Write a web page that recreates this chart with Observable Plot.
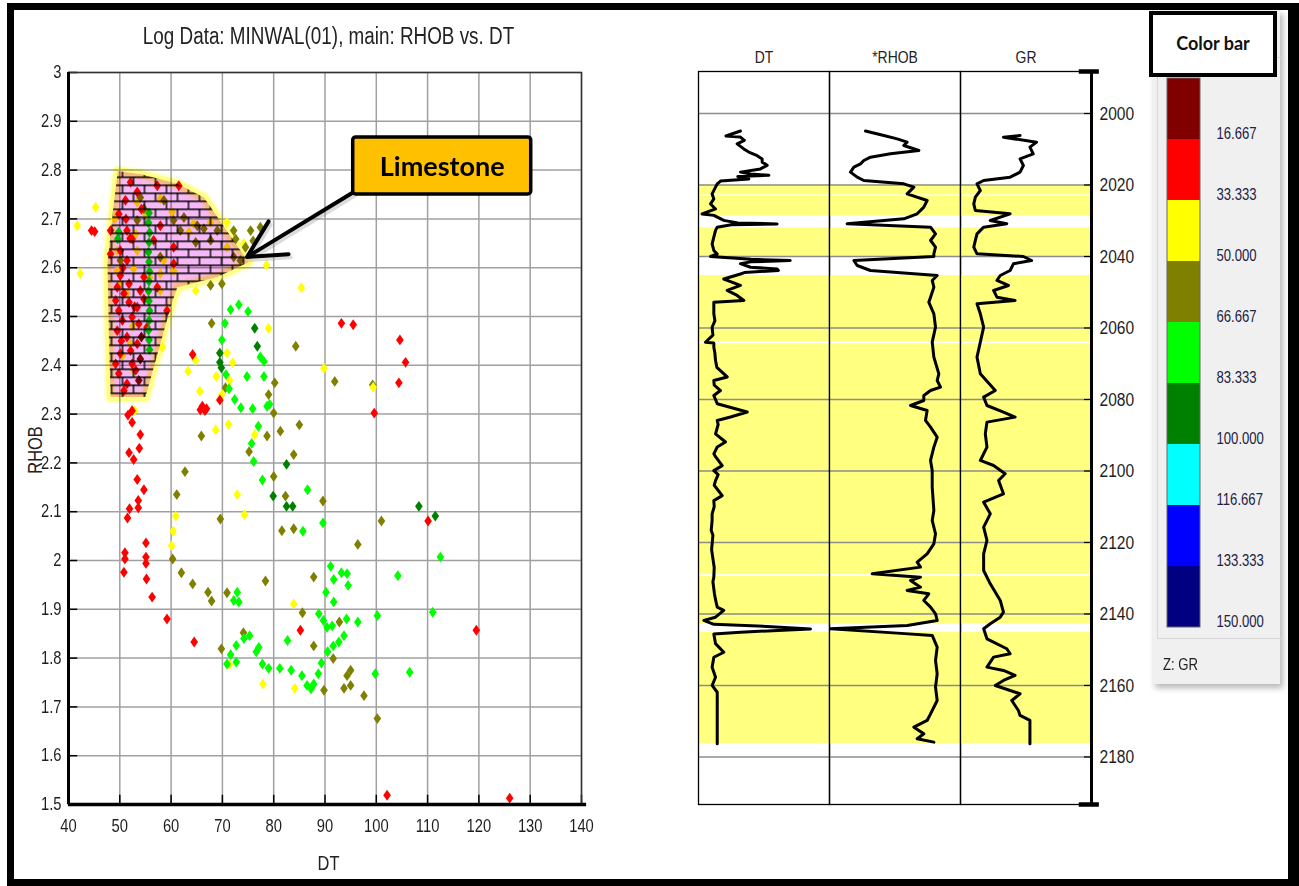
<!DOCTYPE html>
<html>
<head>
<meta charset="utf-8">
<script src="https://cdn.jsdelivr.net/npm/d3@7"></script>
<script src="https://cdn.jsdelivr.net/npm/@observablehq/plot@0.6"></script>
<style>
  body { margin: 0; background: #fff; }
  #page { position: relative; width: 1299px; height: 886px; overflow: hidden; background: #fff; }
  #page svg { display: block; max-width: none; }
</style>
</head>
<body>
<div id="page"></div>
<script>
// ---------- GR colour classes (Z: GR) ----------
const grBounds = [0, 16.667, 33.333, 50, 66.667, 83.333, 100, 116.667, 133.333, 150];
const grBreaks = [16.667, 33.333, 50, 66.667, 83.333, 100, 116.667, 133.333];
const grColors = ["#800000", "#ff0000", "#ffff00", "#808000", "#00ff00", "#008000", "#00ffff", "#0000ff", "#000080"];
const grLabels = ["16.667", "33.333", "50.000", "66.667", "83.333", "100.000", "116.667", "133.333", "150.000"];

// ---------- cross-plot samples: [DT, RHOB], grouped by GR class ----------
const grMaroon = 10, grRed = 25, grYellow = 42, grOlive = 58, grLime = 75, grGreen = 92;

const maroonPts = [[54.0, 2.413], [53.7, 2.369], [54.2, 2.458]];

const redPts = [
  [44.5, 2.676], [45.1, 2.674], [93.2, 2.486], [95.5, 2.483], [104.6, 2.452], [105.7, 2.406], [104.4, 2.364],
  [64.2, 2.422], [99.6, 2.302], [66.1, 2.316], [66.6, 2.307], [65.7, 2.309], [66.9, 2.311], [69.5, 2.329],
  [52.4, 2.283], [54.0, 2.258], [53.8, 2.230], [51.8, 2.221], [52.7, 2.207], [53.4, 2.166], [54.7, 2.145],
  [53.6, 2.123], [53.6, 2.108], [51.9, 2.106], [51.5, 2.087], [55.1, 2.036], [55.1, 2.007], [55.1, 1.994],
  [51.0, 2.016], [51.0, 2.003], [50.8, 1.976], [55.2, 1.962], [56.3, 1.925], [59.2, 1.880], [64.5, 1.833],
  [85.2, 1.857], [110.1, 2.081], [119.5, 1.857], [102.1, 1.519], [126.0, 1.513], [52.4, 2.307], [51.6, 2.298],
  [52.1, 2.775], [57.3, 2.768], [61.5, 2.768], [53.4, 2.755], [51.1, 2.738], [49.8, 2.710], [48.2, 2.676],
  [51.4, 2.676], [52.4, 2.659], [50.1, 2.635], [51.4, 2.615], [50.1, 2.584], [51.8, 2.567], [50.8, 2.547],
  [51.8, 2.529], [49.8, 2.512], [52.4, 2.499], [49.5, 2.471], [51.4, 2.458], [53.4, 2.444], [50.1, 2.424],
  [52.4, 2.403], [49.8, 2.383], [51.4, 2.362], [50.8, 2.348], [59.2, 2.512], [54.0, 2.553], [56.6, 2.656],
  [60.5, 2.642], [60.5, 2.608], [55.3, 2.478], [57.9, 2.686], [53.7, 2.485], [48.2, 2.628], [49.2, 2.533],
  [52.1, 2.430], [53.4, 2.519], [54.7, 2.581], [49.2, 2.403], [57.3, 2.560], [50.5, 2.492], [54.7, 2.536],
  [50.6, 2.600], [52.9, 2.520], [50.3, 2.450], [53.1, 2.390], [51.2, 2.700], [54.2, 2.720], [49.5, 2.560],
  [52.0, 2.660]
];

const yellowPts = [
  [45.3, 2.724], [41.7, 2.686], [42.3, 2.588], [78.6, 2.605], [85.4, 2.559], [64.8, 2.553], [79.0, 2.476],
  [70.9, 2.425], [72.0, 2.405], [64.8, 2.410], [89.8, 2.394], [63.3, 2.388], [68.8, 2.377], [71.4, 2.369],
  [65.6, 2.347], [69.9, 2.340], [68.7, 2.268], [71.2, 2.279], [76.3, 2.258], [72.9, 2.135], [74.3, 2.094],
  [60.9, 2.091], [60.4, 2.060], [60.1, 2.030], [83.9, 1.911], [71.4, 1.787], [77.9, 1.747], [84.1, 1.738],
  [58.3, 2.437], [52.9, 2.307],
  [53.4, 2.734], [57.9, 2.741], [55.0, 2.710], [60.2, 2.714], [64.4, 2.690], [67.7, 2.693], [70.9, 2.693],
  [63.5, 2.673], [49.5, 2.635], [53.4, 2.635], [58.6, 2.615], [49.5, 2.594], [52.7, 2.598], [57.9, 2.588],
  [60.5, 2.594], [50.1, 2.567], [51.4, 2.547], [57.9, 2.553], [52.1, 2.444], [52.7, 2.389], [53.1, 2.669],
  [70.9, 2.642], [74.2, 2.649], [49.0, 2.700], [52.5, 2.480], [55.8, 2.580], [50.5, 2.420]
];

const olivePts = [
  [77.4, 2.683], [67.7, 2.564], [69.9, 2.567], [67.9, 2.486], [84.3, 2.439], [80.2, 2.364], [91.9, 2.367],
  [99.3, 2.360], [70.6, 2.354], [79.0, 2.340], [80.0, 2.302], [65.9, 2.255], [78.7, 2.255], [81.3, 2.265],
  [85.0, 2.278], [75.2, 2.223], [83.9, 2.217], [62.7, 2.182], [61.1, 2.135], [80.0, 2.172], [82.3, 2.132],
  [89.6, 2.122], [69.6, 2.085], [101.0, 2.081], [81.6, 2.061], [83.9, 2.065], [96.4, 2.033], [60.3, 2.003],
  [62.0, 1.975], [64.2, 1.952], [67.2, 1.935], [67.9, 1.917], [70.9, 1.934], [78.4, 1.958], [87.8, 1.966],
  [85.6, 1.893], [92.8, 1.874], [74.1, 1.852], [69.8, 1.819], [87.8, 1.825], [91.6, 1.799], [89.8, 1.734],
  [93.7, 1.738], [95.0, 1.744], [94.3, 1.764], [95.0, 1.775], [97.6, 1.723], [100.2, 1.676],
  [54.0, 2.744], [58.6, 2.738], [62.5, 2.703], [61.8, 2.676], [65.1, 2.686], [66.4, 2.680], [69.0, 2.676],
  [72.2, 2.676], [72.6, 2.659], [74.5, 2.642], [73.5, 2.615], [72.2, 2.622], [64.8, 2.652], [60.5, 2.697],
  [67.7, 2.656], [50.1, 2.615], [57.9, 2.622], [53.4, 2.697], [54.7, 2.721], [75.5, 2.676], [76.0, 2.655]
];

const yellowOverOlive = [[99.4, 2.355]];

const limePts = [
  [71.6, 2.514], [73.2, 2.524], [75.0, 2.510], [70.5, 2.486], [69.9, 2.452], [77.4, 2.417], [78.1, 2.408],
  [74.8, 2.377], [78.1, 2.377], [70.7, 2.381], [71.3, 2.352], [72.4, 2.330], [73.6, 2.313], [75.9, 2.311],
  [78.7, 2.316], [79.2, 2.320], [77.0, 2.275], [75.7, 2.240], [76.1, 2.203], [77.8, 2.165], [86.6, 2.145],
  [89.6, 2.077], [85.7, 2.060], [112.5, 2.007], [72.9, 1.935], [72.2, 1.918], [73.2, 1.915], [91.1, 1.988],
  [93.2, 1.975], [94.3, 1.973], [94.5, 1.949], [91.7, 1.961], [90.2, 1.935], [91.7, 1.915], [104.2, 1.969],
  [88.8, 1.891], [89.7, 1.877], [90.4, 1.863], [91.4, 1.866], [94.2, 1.880], [96.4, 1.874], [100.2, 1.887],
  [111.0, 1.894], [82.7, 1.836], [91.6, 1.825], [92.7, 1.833], [93.7, 1.846], [90.5, 1.813], [75.3, 1.846],
  [74.2, 1.840], [72.7, 1.826], [77.1, 1.822], [76.6, 1.813], [71.6, 1.807], [70.9, 1.788], [72.7, 1.792],
  [77.8, 1.788], [79.0, 1.779], [81.2, 1.779], [83.4, 1.775], [85.5, 1.764], [86.5, 1.744], [87.3, 1.737],
  [87.8, 1.747], [88.7, 1.768], [89.3, 1.790], [99.8, 1.768], [106.5, 1.771],
  [55.7, 2.712], [55.6, 2.692], [55.8, 2.672], [55.7, 2.652], [55.6, 2.632], [55.7, 2.612], [55.8, 2.592],
  [55.7, 2.572], [55.6, 2.552], [55.7, 2.532], [55.8, 2.512], [55.7, 2.492], [55.6, 2.472], [55.7, 2.452],
  [55.8, 2.432], [49.8, 2.673], [49.6, 2.659]
];

const greenPts = [
  [76.3, 2.476], [76.8, 2.439], [69.5, 2.425], [69.5, 2.406], [69.8, 2.395], [82.5, 2.197], [79.9, 2.132],
  [82.5, 2.111], [83.7, 2.111], [108.3, 2.111], [111.5, 2.091]
];

// limestone zone outline on the cross-plot
const limestoneDT   = [49.6, 54.4, 61.2, 66.4, 75.1, 69.0, 61.2, 59.9, 55.0, 48.2, 47.9, 47.6, 48.7];
const limestoneRHOB = [2.798, 2.791, 2.772, 2.744, 2.611, 2.581, 2.560, 2.519, 2.335, 2.335, 2.450, 2.610, 2.720];

// axis ticks
const dtTicks = [40, 50, 60, 70, 80, 90, 100, 110, 120, 130, 140];
const rhobTicks = [1.5, 1.6, 1.7, 1.8, 1.9, 2.0, 2.1, 2.2, 2.3, 2.4, 2.5, 2.6, 2.7, 2.8, 2.9, 3.0];
const depthTicks = [2000, 2020, 2040, 2060, 2080, 2100, 2120, 2140, 2160, 2180];
const depthRange = [1988.25, 2193.3];

// ---------- well logs: [depth, value] ----------
const dtLog = [
  [2004.9, 72], [2006.3, 61], [2006.6, 72], [2007.5, 75], [2008.5, 69.5], [2009.9, 74.6], [2010.8, 78.4],
  [2011.8, 84.8], [2012.7, 88.6], [2013.6, 88.6], [2014.5, 92.4], [2015.5, 87.3], [2016.4, 72], [2016.9, 79.7],
  [2017.3, 93.7], [2017.6, 70], [2018.3, 78.4], [2018.9, 56.8], [2019.7, 54.3], [2020.6, 53], [2022.5, 50.4],
  [2023.9, 51.7], [2025.3, 49.2], [2026.7, 53], [2028.1, 42.8], [2028.5, 51.7], [2029.9, 59.3], [2030.6, 70],
  [2030.9, 100], [2031.1, 65], [2031.8, 54.3], [2032.7, 53], [2034.6, 51.7], [2036.5, 50.4], [2038.3, 51.7],
  [2039.3, 54.3], [2040.0, 49.2], [2040.8, 80], [2041.1, 110], [2041.5, 80], [2042.0, 72], [2043.0, 79.7],
  [2043.5, 100], [2043.9, 101], [2044.5, 75], [2044.9, 72], [2046.3, 59.3], [2046.7, 61.9], [2048.1, 72],
  [2049.5, 61.9], [2050.9, 69.5], [2052.3, 74.6], [2052.8, 51.7], [2056.0, 51.7], [2058.0, 52.5],
  [2059.8, 50.4], [2062.0, 51.0], [2064.0, 45.3], [2064.2, 51.7], [2065.4, 51.7], [2067.0, 52.5],
  [2069.1, 53], [2071.0, 54.0], [2073.7, 61.9], [2074.7, 51.7], [2076.0, 52.0], [2077.5, 56.8],
  [2078.9, 51.7], [2080.0, 53.0], [2081.2, 54.3], [2083.5, 77.2], [2084.9, 64.4], [2085.9, 54.3],
  [2087.0, 55.0], [2089.6, 53], [2091.9, 60.6], [2093.3, 54.3], [2095.2, 51.7], [2096.0, 53.0],
  [2098.5, 58.1], [2099.9, 51.7], [2101.0, 55.0], [2102.7, 53], [2104.0, 52.0], [2106.9, 58.1],
  [2108.3, 51.7], [2110.0, 52.0], [2112.0, 50.4], [2113.8, 50.4], [2116.6, 49.7], [2118.0, 51.0],
  [2120.4, 50.4], [2122.0, 50.0], [2125.0, 51.2], [2127.0, 52.0], [2129.7, 51.7], [2131.0, 51.0],
  [2134.4, 52.2], [2136.0, 53.0], [2138.1, 54.3], [2139.0, 59.3], [2140.9, 53], [2141.8, 44.1],
  [2142.9, 51.7], [2143.5, 92.4], [2144.2, 125.5], [2145.1, 72.1], [2145.6, 51.7], [2148.3, 53],
  [2150.7, 59.3], [2152.1, 51.7], [2154.9, 50.4], [2157.7, 53], [2160.0, 50.4], [2161.9, 54.3], [2176.3, 54.3]
];

const rhobLog = [
  [2004.9, 1.912], [2006.15, 2.122], [2007.09, 2.275], [2008.02, 2.389], [2008.95, 2.351], [2010.35, 2.523],
  [2011.28, 2.198], [2012.21, 1.969], [2013.15, 1.893], [2014.08, 1.855], [2015.01, 1.779], [2016.41, 1.74],
  [2017.81, 1.817], [2018.74, 1.893], [2019.67, 2.351], [2020.61, 2.466], [2022.47, 2.389], [2024.34, 2.618],
  [2026.2, 2.58], [2028.06, 2.504], [2029.46, 2.351], [2030.86, 1.702], [2031.79, 2.657], [2033.66, 2.714],
  [2035.52, 2.657], [2037.39, 2.714], [2039.25, 2.695], [2040.0, 2.695], [2041.12, 1.779], [2042.52, 1.817],
  [2043.92, 1.969], [2045.31, 2.733], [2046.71, 2.676], [2048.58, 2.695], [2051.38, 2.657], [2052.77, 2.637],
  [2056.04, 2.695], [2059.77, 2.714], [2063.96, 2.676], [2068.16, 2.695], [2072.82, 2.752], [2074.69, 2.733],
  [2076.55, 2.771], [2077.48, 2.657], [2078.88, 2.58], [2080.28, 2.58], [2081.68, 2.428], [2083.08, 2.618],
  [2085.87, 2.599], [2087.74, 2.657], [2090.54, 2.733], [2093.33, 2.695], [2097.06, 2.657], [2099.86, 2.676],
  [2104.52, 2.676], [2111.05, 2.695], [2113.85, 2.676], [2117.58, 2.714], [2120.37, 2.695], [2123.17, 2.618],
  [2125.5, 2.504], [2126.9, 2.542], [2128.76, 1.989], [2129.7, 2.542], [2130.63, 2.428], [2132.5, 2.542],
  [2133.43, 2.389], [2134.36, 2.637], [2136.22, 2.58], [2138.09, 2.657], [2139.95, 2.714], [2141.82, 2.733],
  [2143.22, 2.389], [2144.15, 1.511], [2145.36, 2.275], [2146.01, 2.676], [2149.28, 2.733], [2153.01, 2.714],
  [2156.74, 2.733], [2160.47, 2.714], [2164.2, 2.733], [2167.93, 2.657], [2169.79, 2.618], [2171.66, 2.466],
  [2173.52, 2.58], [2174.92, 2.504], [2175.85, 2.695]
];

const grLog = [
  [2006.15, 68.2], [2006.62, 49.2], [2008.02, 87.1], [2009.42, 79.5], [2011.28, 83.3], [2012.68, 68.2],
  [2014.55, 72], [2016.41, 68.2], [2017.81, 56.8], [2018.74, 26.5], [2019.67, 18.9], [2021.54, 22.7],
  [2023.4, 17], [2025.27, 15.2], [2027.13, 17], [2028.06, 56.8], [2029.93, 34.1], [2030.86, 53], [2031.79, 26.5],
  [2033.66, 18.9], [2035.52, 17], [2037.39, 15.2], [2039.25, 18.9], [2040.0, 72], [2041.12, 81.4],
  [2042.05, 60.6], [2043.92, 56.8], [2045.31, 45.5], [2046.71, 41.7], [2048.11, 54.9], [2049.5, 37.9],
  [2051.38, 41.7], [2052.3, 62.5], [2053.24, 18.9], [2056.04, 22.7], [2059.77, 26.5], [2063.96, 22.7],
  [2068.16, 18.9], [2072.82, 22.7], [2077.48, 39.8], [2079.35, 26.5], [2081.68, 30.3], [2083.54, 49.2],
  [2084.94, 62.5], [2086.34, 30.3], [2089.6, 28.4], [2093.33, 30.3], [2097.06, 22.7], [2098.46, 37.9],
  [2100.79, 51.1], [2102.66, 43.6], [2106.39, 49.2], [2108.72, 26.5], [2111.98, 34.1], [2115.71, 26.5],
  [2119.44, 30.3], [2123.17, 26.5], [2127.83, 26.5], [2131.56, 34.1], [2136.22, 45.5], [2139.49, 49.2],
  [2140.89, 45.5], [2142.75, 34.1], [2144.15, 26.5], [2146.95, 30.3], [2149.74, 53], [2151.14, 56.8],
  [2152.08, 37.9], [2154.87, 30.3], [2155.8, 49.2], [2157.2, 62.5], [2158.6, 49.2], [2160.0, 39.8],
  [2162.33, 68.2], [2164.2, 58.7], [2167.0, 66.3], [2168.39, 68.2], [2169.79, 79.5], [2176.32, 79.5]
];

// limestone intervals shaded on the log tracks: [top, base]
const limestoneIntervals = [
  [2020.0, 2022.8], [2023.1, 2028.7], [2032.0, 2040.0], [2045.3, 2064.0],
  [2064.4, 2129.0], [2129.5, 2142.8], [2145.1, 2176.3]
];

// ---------- helpers ----------
const FONT = '"Liberation Sans", Arial, sans-serif';
const NARROW = 0.82; // horizontal squeeze for the narrow lettering
const page = document.getElementById("page");

function place(node, left, top, w, h, z = 1) {
  const d = document.createElement("div");
  d.style.cssText = `position:absolute;left:${left}px;top:${top}px;width:${w}px;height:${h}px;z-index:${z};`;
  d.appendChild(node);
  page.appendChild(d);
  return d;
}
function textBox(text, css) {
  const d = document.createElement("div");
  d.textContent = text;
  d.style.cssText = "position:absolute;white-space:nowrap;" + css;
  page.appendChild(d);
  return d;
}
// squeeze every svg text horizontally about its own anchor (the callout keeps its shape)
function condense(svg, k = NARROW) {
  d3.select(svg).selectAll("text").each(function () {
    if (this.closest(".callout")) return;
    const t = this.getAttribute("transform");
    this.setAttribute("transform", (t ? t + " " : "") + `scale(${k},1)`);
  });
  return svg;
}
// a diamond a little wider than d3's default
const wideDiamond = {
  draw(context, size) {
    const r = Math.sqrt(size / Math.PI);
    const h = 1.6 * r, w = 1.12 * r;
    context.moveTo(0, -h); context.lineTo(w, 0); context.lineTo(0, h); context.lineTo(-w, 0); context.closePath();
  }
};

const colorScale = {type: "threshold", domain: grBreaks, range: grColors};

// ---------- RHOB vs DT cross-plot ----------
const samples = [];
for (const [gr, list] of [[grYellow, yellowPts], [grOlive, olivePts], [grYellow, yellowOverOlive], [grRed, redPts], [grMaroon, maroonPts], [grLime, limePts], [grGreen, greenPts]]) {
  for (const [dt, rhob] of list) samples.push({dt, rhob, gr});
}
const zone = limestoneDT.map((dt, i) => ({dt, rhob: limestoneRHOB[i]}));
const callout = {x1: 95.5, x2: 130.2, y1: 2.750, y2: 2.867, tx: 112.85, ty: 2.805, ax1: 95.6, ay1: 2.755, ax2: 74.8, ay2: 2.622};

const cross = Plot.plot({
  width: 640, height: 886,
  marginLeft: 68, marginRight: 59, marginTop: 72, marginBottom: 82,
  x: {domain: [40, 140]},
  y: {domain: [1.5, 3]},
  color: colorScale,
  style: {fontFamily: FONT, fontSize: "18px", color: "#1e1e1e", background: "transparent", overflow: "visible"},
  marks: [
    Plot.gridX(dtTicks, {stroke: "#a0a0a0", strokeOpacity: 1, strokeWidth: 1.5}),
    Plot.gridY(rhobTicks, {stroke: "#a0a0a0", strokeOpacity: 1, strokeWidth: 1.5}),
    Plot.axisX(dtTicks, {tickSize: 0, tickPadding: 15, label: null, fontSize: 18}),
    Plot.axisY(rhobTicks, {tickSize: 0, tickPadding: 7, label: null, fontSize: 18, tickFormat: d => d3.format("~g")(+d.toFixed(1))}),
    Plot.ruleX(dtTicks, {y1: 1.5, y2: 1.519, stroke: "black", strokeWidth: 1.5}),
    Plot.ruleY(rhobTicks, {x1: 40, x2: 41.8, stroke: "black", strokeWidth: 1.5}),
    Plot.dot(samples, {x: "dt", y: "rhob", fill: "gr", symbol: wideDiamond, r: 3.4}),
    // limestone zone: soft yellow rim, then brick-hatched fill blended over the samples
    Plot.line(zone, {x: "dt", y: "rhob", curve: "linear-closed", stroke: "#ffff66", strokeWidth: 13, strokeOpacity: 0.25, strokeLinejoin: "round", fill: "none", mixBlendMode: "multiply"}),
    Plot.line(zone, {x: "dt", y: "rhob", curve: "linear-closed", stroke: "#ffff80", strokeWidth: 8, strokeOpacity: 0.8, strokeLinejoin: "round", fill: "none", mixBlendMode: "multiply"}),
    Plot.line(zone, {x: "dt", y: "rhob", curve: "linear-closed", stroke: "none", fill: "url(#brick)", mixBlendMode: "multiply"}),
    Plot.frame({stroke: "#333", strokeWidth: 1.5}),
    Plot.ruleX([40], {stroke: "black", strokeWidth: 3}),
    Plot.ruleY([1.5], {x1: 40, x2: 141, stroke: "black", strokeWidth: 3.5}),
    // "Limestone" callout
    Plot.arrow([callout], {x1: "ax1", y1: "ay1", x2: "ax2", y2: "ay2", stroke: "#888", strokeOpacity: 0.3, strokeWidth: 4, headLength: 17, headAngle: 55, dx: 2, dy: 3}),
    Plot.arrow([callout], {x1: "ax1", y1: "ay1", x2: "ax2", y2: "ay2", stroke: "black", strokeWidth: 4, headLength: 17, headAngle: 55}),
    Plot.rect([callout], {x1: "x1", x2: "x2", y1: "y1", y2: "y2", fill: "#ffc000", stroke: "black", strokeWidth: 3.5, rx: 3}),
    Plot.text([callout], {x: "tx", y: "ty", text: () => "Limestone", className: "callout", fontFamily: "Lato, 'Open Sans', sans-serif", fontWeight: "bold", fontSize: 27, fill: "black"})
  ]
});
// brick hatch used by the limestone zone
{
  const defs = d3.select(cross).insert("defs", ":first-child");
  const pat = defs.append("pattern").attr("id", "brick").attr("patternUnits", "userSpaceOnUse").attr("width", 22).attr("height", 16);
  pat.append("rect").attr("width", 22).attr("height", 16).attr("fill", "#f6b8f6");
  pat.append("path").attr("d", "M0,0.7H22M0,8.7H22M1,0.7V8.7M12,8.7V16.7").attr("stroke", "#000").attr("stroke-width", 1.4).attr("fill", "none");
}
place(condense(cross), 0, 0, 640, 886);

const squeeze = `transform:scaleX(${NARROW});transform-origin:50% 50%;`;
textBox("Log Data: MINWAL(01), main: RHOB vs. DT", `left:72px;top:22px;width:513px;text-align:center;font:23px/28px ${FONT};color:#222;${squeeze}`);
textBox("DT", `left:72px;top:852px;width:513px;text-align:center;font:20px/22px ${FONT};color:#222;${squeeze}`);
textBox("RHOB", `left:5px;top:439px;width:60px;text-align:center;font:20px/22px ${FONT};color:#222;transform:rotate(-90deg) scaleX(${NARROW});transform-origin:50% 50%;`);

// ---------- log tracks ----------
function track(log, domain, header, withDepthAxis) {
  const marks = [
    Plot.rect(limestoneIntervals, {x1: domain[0], x2: domain[1], y1: d => d[0], y2: d => d[1], fill: "#ffff80"}),
    Plot.gridY(depthTicks, {stroke: "#8c8c8c", strokeOpacity: 1, strokeWidth: 1.5}),
    Plot.line(log, {x: d => d[1], y: d => d[0], stroke: "black", strokeWidth: 3, strokeLinejoin: "round"}),
    Plot.frame({stroke: "black", strokeWidth: 1.3}),
    Plot.text([header], {frameAnchor: "top", lineAnchor: "middle", dy: -14, fontSize: 17, fill: "#222"})
  ];
  if (withDepthAxis) {
    marks.push(
      Plot.ruleY(depthTicks, {x1: 142, x2: 150, stroke: "black", strokeWidth: 1.2}),
      Plot.ruleX([150], {stroke: "black", strokeWidth: 3}),
      Plot.ruleY(depthRange, {x1: 136, x2: 159, stroke: "black", strokeWidth: 4.5}),
      Plot.axisY(depthTicks, {anchor: "right", tickSize: 0, tickPadding: 8, label: null, fontSize: 19, tickFormat: d => String(d)})
    );
  }
  return condense(Plot.plot({
    width: withDepthAxis ? 183 : 133, height: 766,
    marginLeft: 1, marginRight: withDepthAxis ? 51 : 1, marginTop: 31, marginBottom: 2,
    x: {domain, axis: null},
    y: {domain: depthRange, reverse: true, axis: null},
    style: {fontFamily: FONT, fontSize: "17px", color: "#1e1e1e", background: "transparent", overflow: "visible"},
    marks
  }));
}
place(track(dtLog, [40, 140], "DT", false), 697, 40, 133, 766);
place(track(rhobLog, [1.5, 3.0], "*RHOB", false), 828, 40, 133, 766);
place(track(grLog, [0, 150], "GR", true), 959, 40, 183, 766);

// ---------- colour bar panel ----------
const panel = document.createElement("div");
panel.style.cssText = "position:absolute;left:1152px;top:10px;width:128px;height:674px;background:#f0f0f0;box-shadow:3px 4px 6px rgba(0,0,0,0.28);z-index:2;";
page.appendChild(panel);
const inner = document.createElement("div");
inner.style.cssText = "position:absolute;left:1157px;top:57px;width:124px;height:580px;border:1px solid #d6d6d6;z-index:3;";
page.appendChild(inner);

const bands = grColors.map((c, i) => ({lo: grBounds[i], hi: grBounds[i + 1], label: grLabels[i]}));
const bar = Plot.plot({
  width: 126, height: 580,
  marginLeft: 10, marginRight: 83, marginTop: 21, marginBottom: 10,
  x: {domain: [0, 1], axis: null},
  y: {domain: [0, 150], reverse: true, axis: null},
  color: colorScale,
  style: {fontFamily: FONT, fontSize: "16px", background: "transparent", overflow: "visible"},
  marks: [
    Plot.rect(bands, {x1: 0, x2: 1, y1: "lo", y2: "hi", fill: d => (d.lo + d.hi) / 2}),
    Plot.rect([0], {x1: 0, x2: 1, y1: 0, y2: 150, fill: "none", stroke: "#666", strokeWidth: 1}),
    Plot.text(bands, {x: 1, y: "hi", text: "label", textAnchor: "start", dx: 16, dy: -6, fontSize: 16, fill: "#222244"})
  ]
});
place(condense(bar), 1157, 57, 126, 580, 4);
textBox("Z: GR", `left:1163px;top:656px;font:16px/18px ${FONT};color:#222;z-index:4;transform:scaleX(${NARROW});transform-origin:0 50%;`);
textBox("Color bar", `left:1149px;top:11px;width:128px;height:66px;box-sizing:border-box;border:4.5px solid #000;background:#fff;text-align:center;font:bold 18px/57px Lato, 'Open Sans', sans-serif;color:#111;z-index:5;`);

// ---------- outer border ----------
const border = document.createElement("div");
border.style.cssText = "position:absolute;left:7px;top:3px;width:1292px;height:883px;box-sizing:border-box;border:7px solid #000;border-right-width:11px;z-index:10;pointer-events:none;";
page.appendChild(border);
</script>
</body>
</html>
